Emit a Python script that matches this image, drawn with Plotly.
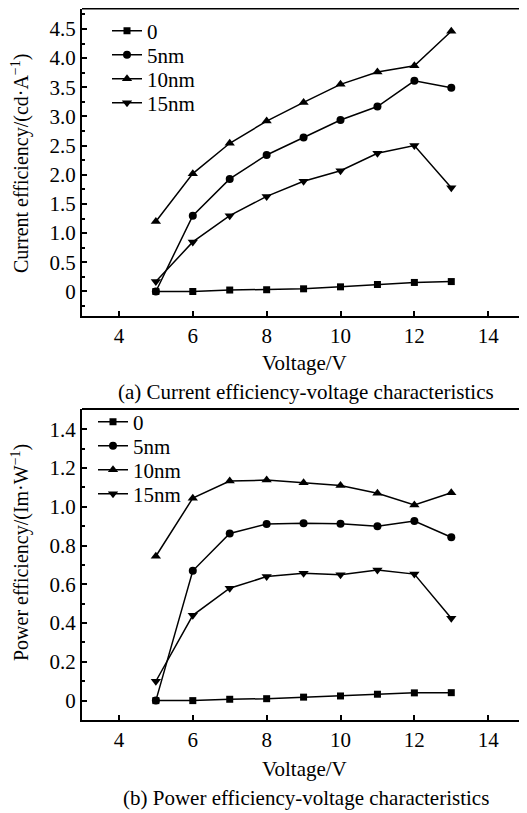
import plotly.graph_objects as go

voltage = [5, 6, 7, 8, 9, 10, 11, 12, 13]
series_names = ["0", "5nm", "10nm", "15nm"]

ce_0 = [0.0, 0.0, 0.025, 0.03, 0.046, 0.08, 0.12, 0.155, 0.17]
ce_5 = [0.0, 1.30, 1.93, 2.34, 2.64, 2.94, 3.17, 3.61, 3.49]
ce_10 = [1.20, 2.02, 2.54, 2.92, 3.24, 3.55, 3.76, 3.87, 4.46]
ce_15 = [0.17, 0.85, 1.30, 1.63, 1.89, 2.07, 2.37, 2.50, 1.78]

pe_0 = [0.0, 0.0, 0.007, 0.01, 0.018, 0.024, 0.033, 0.04, 0.041]
pe_5 = [0.0, 0.67, 0.863, 0.911, 0.915, 0.913, 0.90, 0.927, 0.843]
pe_10 = [0.745, 1.045, 1.133, 1.138, 1.124, 1.11, 1.07, 1.01, 1.073]
pe_15 = [0.10, 0.44, 0.58, 0.64, 0.657, 0.65, 0.674, 0.653, 0.425]

ce_ticks = [0, 0.5, 1.0, 1.5, 2.0, 2.5, 3.0, 3.5, 4.0, 4.5]
ce_ticktext = ["0", "0.5", "1.0", "1.5", "2.0", "2.5", "3.0", "3.5", "4.0", "4.5"]
pe_ticks = [0, 0.2, 0.4, 0.6, 0.8, 1.0, 1.2, 1.4]
pe_ticktext = ["0", "0.2", "0.4", "0.6", "0.8", "1.0", "1.2", "1.4"]
x_ticks = [4, 6, 8, 10, 12, 14]

# page body has an 8px margin; the figure is sized to fill the rest
OFF = 8
W, H = 527 - OFF, 813 - OFF
FONT = "Liberation Serif, Times New Roman, serif"
FS = 21
symbols = ["square", "circle", "triangle-up", "triangle-down"]
msizes = [7, 8, 9, 9]


def px_x(p):
    return (p - OFF) / W


def px_y(p):
    return 1 - (p - OFF) / H


# legend entry vertical centres (reference pixels)
top_leg_y = [31, 55, 79, 103]
bot_leg_y = [422, 446, 470, 494]
top_leg_x = 107
bot_leg_x = 93

fig = go.Figure()
legend_layout = {}
k = 0
for panel, (data, xa, ya, ly, lx) in enumerate([
        ([ce_0, ce_5, ce_10, ce_15], "x", "y", top_leg_y, top_leg_x),
        ([pe_0, pe_5, pe_10, pe_15], "x2", "y2", bot_leg_y, bot_leg_x)]):
    for i, (name, ys) in enumerate(zip(series_names, data)):
        k += 1
        lname = "legend" if k == 1 else f"legend{k}"
        fig.add_trace(go.Scatter(
            x=voltage, y=ys, name=name, mode="lines+markers",
            line=dict(color="black", width=1.5),
            marker=dict(symbol=symbols[i], size=msizes[i], color="black"),
            xaxis=xa, yaxis=ya, legend=lname))
        legend_layout[lname] = dict(
            x=px_x(lx), y=px_y(ly[i]), xanchor="left", yanchor="middle",
            bgcolor="rgba(0,0,0,0)",
            font=dict(family=FONT, size=FS, color="black"))

x_left = px_x(82)
top_dom = [px_y(316), px_y(8.5)]
bot_dom = [px_y(720), px_y(409)]

axis_common = dict(
    showline=True, linecolor="black", linewidth=2,
    ticks="inside", ticklen=5, tickwidth=1.5, tickcolor="black",
    showgrid=False, zeroline=False,
    tickfont=dict(family=FONT, size=FS, color="black"),
)

fig.update_layout(
    width=W, height=H,
    margin=dict(l=0, r=0, t=0, b=0),
    paper_bgcolor="white", plot_bgcolor="white",
    font=dict(family=FONT, size=FS, color="black"),
    xaxis=dict(domain=[x_left, 1], range=[3, 15.05], anchor="y",
               tickvals=x_ticks, **axis_common),
    yaxis=dict(domain=top_dom, range=[-0.42, 4.85], anchor="x",
               tickvals=ce_ticks, ticktext=ce_ticktext,
               minor=dict(ticks="inside", ticklen=3, tickcolor="black",
                          dtick=0.25, tick0=0),
               **axis_common),
    xaxis2=dict(domain=[x_left, 1], range=[3, 15.05], anchor="y2",
                tickvals=x_ticks, **axis_common),
    yaxis2=dict(domain=bot_dom, range=[-0.1, 1.505], anchor="x2",
                tickvals=pe_ticks, ticktext=pe_ticktext,
                minor=dict(ticks="inside", ticklen=3, tickcolor="black",
                           dtick=0.1, tick0=0),
                **axis_common),
    showlegend=True,
    **legend_layout,
)

# top frame lines
for yt in [top_dom[1], bot_dom[1]]:
    fig.add_shape(type="line", xref="paper", yref="paper",
                  x0=x_left, x1=1, y0=yt, y1=yt,
                  line=dict(color="black", width=2))

annos = [
    dict(text="Voltage/V", x=px_x(304), y=px_y(363), size=FS),
    dict(text="(a) Current efficiency-voltage characteristics", x=px_x(306), y=px_y(392), size=FS),
    dict(text="Voltage/V", x=px_x(304), y=px_y(769), size=FS),
    dict(text="(b) Power efficiency-voltage characteristics", x=px_x(306), y=px_y(798), size=FS),
    dict(text="Current efficiency/(cd·A<sup>−1</sup>)", x=px_x(20), y=px_y(164), size=20, textangle=-90),
    dict(text="Power efficiency/(Im·W<sup>−1</sup>)", x=px_x(20), y=px_y(553), size=20, textangle=-90),
]
for a in annos:
    size = a.pop("size")
    fig.add_annotation(xref="paper", yref="paper", showarrow=False,
                       xanchor="center", yanchor="middle",
                       font=dict(family=FONT, size=size, color="black"), **a)

fig.write_html("out.html")
